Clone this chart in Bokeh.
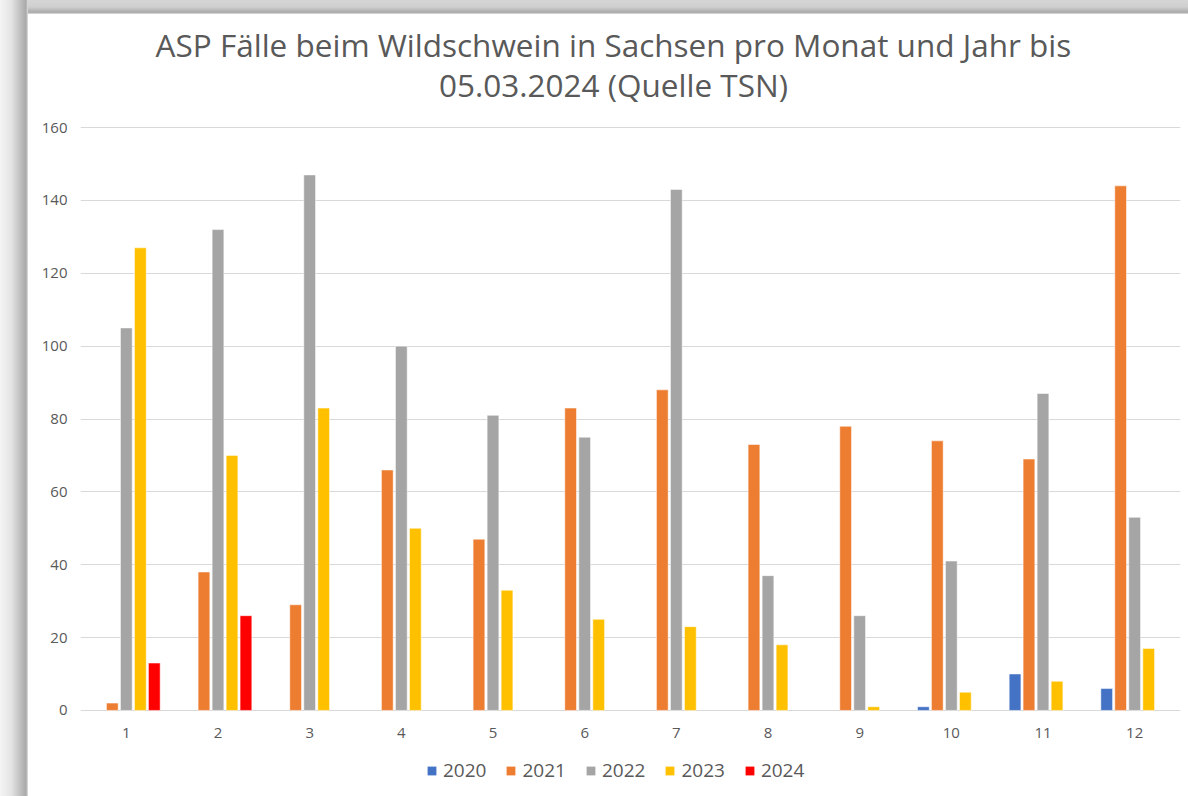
import math
from bokeh.plotting import figure
from bokeh.models import (ColumnDataSource, Range1d, FixedTicker, Legend, LegendItem,
                          Label, Spacer)
from bokeh.layouts import row, column
from bokeh.transform import dodge
from bokeh.embed import file_html
from bokeh.resources import INLINE

NaN = float("nan")

months = [1, 2, 3, 4, 5, 6, 7, 8, 9, 10, 11, 12]
y2020 = [NaN, NaN, NaN, NaN, NaN, NaN, NaN, NaN, NaN, 1, 10, 6]
y2021 = [2, 38, 29, 66, 47, 83, 88, 73, 78, 74, 69, 144]
y2022 = [105, 132, 147, 100, 81, 75, 143, 37, 26, 41, 87, 53]
y2023 = [127, 70, 83, 50, 33, 25, 23, 18, 1, 5, 8, 17]
y2024 = [13, 26, NaN, NaN, NaN, NaN, NaN, NaN, NaN, NaN, NaN, NaN]
years = ["2020", "2021", "2022", "2023", "2024"]
colors = ["#4472C4", "#ED7D31", "#A5A5A5", "#FFC000", "#FF0000"]
y_ticks = [0, 20, 40, 60, 80, 100, 120, 140, 160]
title_line1 = "ASP Fälle beim Wildschwein in Sachsen pro Monat und Jahr bis"
title_line2 = "05.03.2024 (Quelle TSN)"

source = ColumnDataSource(dict(month=months, y2020=y2020, y2021=y2021,
                               y2022=y2022, y2023=y2023, y2024=y2024))

FONT = "Open Sans"
TXT = "#595959"
W = 1160

# ---- title strip ----
TH = 103
pt = figure(width=W, height=TH, output_backend="svg", toolbar_location=None,
            x_axis_location=None, y_axis_location=None,
            min_border=0, x_range=Range1d(0, W), y_range=Range1d(0, TH))
pt.grid.visible = False
pt.outline_line_color = None
pt.border_fill_color = "white"
pt.background_fill_color = "white"
for txt, yy in ((title_line1, 73), (title_line2, 33)):
    pt.add_layout(Label(x=562, y=yy, text=txt, text_align="center",
                        text_baseline="alphabetic", text_font=FONT,
                        text_font_size="31.5px", text_color=TXT))

# ---- main chart ----
p = figure(width=W, height=627, output_backend="svg", toolbar_location=None,
           x_range=Range1d(0.5, 12.5), y_range=Range1d(-0.3, 160.3),
           min_border_left=52, min_border_right=8, min_border_top=9,
           min_border_bottom=33)
p.outline_line_color = None
p.background_fill_color = "white"
p.border_fill_color = "white"
p.xgrid.grid_line_color = None
p.ygrid.grid_line_color = "#D9D9D9"
p.ygrid.grid_line_width = 1
p.yaxis.ticker = FixedTicker(ticks=y_ticks)
p.xaxis.ticker = FixedTicker(ticks=months)
for ax in (p.xaxis[0], p.yaxis[0]):
    ax.axis_line_color = None
    ax.major_tick_line_color = None
    ax.minor_tick_line_color = None
    ax.major_label_text_font = FONT
    ax.major_label_text_font_size = "15px"
    ax.major_label_text_color = TXT
p.yaxis.major_label_standoff = 7
p.xaxis.major_label_standoff = 10

offsets = [-0.305, -0.153, 0.0, 0.153, 0.305]
for yr, col, off in zip(years, colors, offsets):
    p.vbar(x=dodge("month", off), top="y" + yr, width=0.128, bottom=0,
           source=source, fill_color=col, line_color="white", line_alpha=0.5,
           line_width=1)

# ---- legend strip ----
pl = figure(width=W, height=52, output_backend="svg", toolbar_location=None,
            min_border=0, x_range=Range1d(100, 101), y_range=Range1d(1000, 1001))
pl.axis.visible = False
pl.grid.visible = False
pl.outline_line_color = None
pl.border_fill_color = "white"
items = []
for yr, col in zip(years, colors):
    r = pl.vbar(x="month", top="y" + yr, width=0.1, source=source,
                fill_color=col, line_color=None)
    items.append(LegendItem(label=yr, renderers=[r]))
legend = Legend(items=items, orientation="horizontal", location=(346, 13),
                label_text_font=FONT, label_text_font_size="19px", label_text_color=TXT,
                glyph_width=11, glyph_height=11, label_standoff=6, spacing=19,
                border_line_color=None, background_fill_alpha=0, margin=0, padding=4)
pl.add_layout(legend)

left_strip = Spacer(width=28, height=796,
                    styles={"background": "linear-gradient(to right, #f4f4f4 0%, #e4e4e4 40%, #a9a9a9 93%, #e2e2e2 100%)"})
top_strip = Spacer(width=W, height=14,
                   styles={"background": "linear-gradient(to bottom, #d6d6d6 0%, #cfcfcf 50%, #a9a9a9 88%, #e2e2e2 100%)"})
layout = row(left_strip, column(top_strip, pt, p, pl))

open("out.html", "w").write(file_html(layout, INLINE))
